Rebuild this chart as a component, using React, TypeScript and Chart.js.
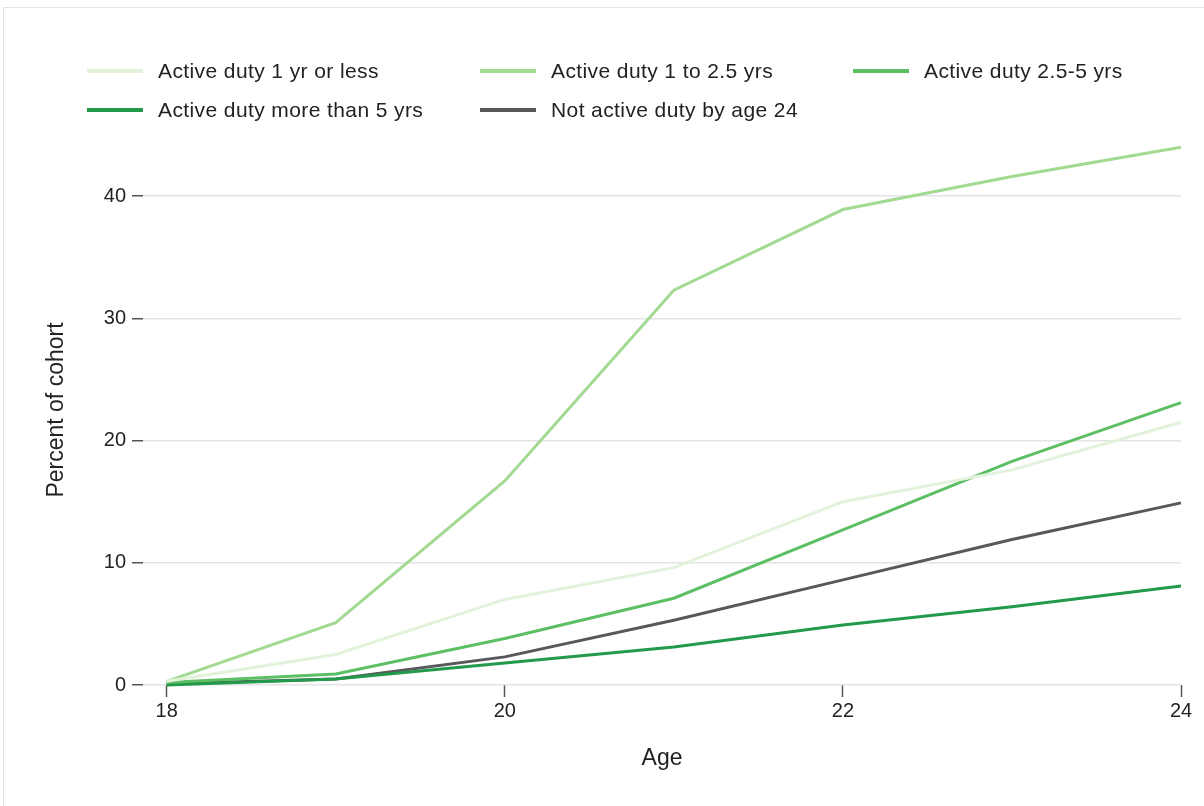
import React, { useEffect, useRef } from "react";
import { Chart, registerables } from "chart.js";

Chart.register(...registerables);

const ages = [18, 19, 20, 21, 22, 23, 24];
const xTickValues = [18, 20, 22, 24];
const yTickValues = [0, 10, 20, 30, 40];

const lessThan1 = [0.3, 2.5, 7.0, 9.6, 15.0, 17.6, 21.5];
const oneTo2_5 = [0.3, 5.1, 16.7, 32.3, 38.9, 41.6, 44.0];
const twoHalfTo5 = [0.2, 0.9, 3.8, 7.1, 12.7, 18.3, 23.1];
const moreThan5 = [0.0, 0.5, 1.8, 3.1, 4.9, 6.4, 8.1];
const notActive = [0.1, 0.5, 2.3, 5.3, 8.6, 11.9, 14.9];

const seriesNames = [
  "Active duty 1 yr or less",
  "Active duty 1 to 2.5 yrs",
  "Active duty 2.5-5 yrs",
  "Active duty more than 5 yrs",
  "Not active duty by age 24",
];
const seriesValues = [lessThan1, oneTo2_5, twoHalfTo5, moreThan5, notActive];
const seriesColors = ["#e2f2db", "#a2da92", "#5dbf64", "#23994a", "#58585c"];

const FONT = "'Liberation Sans', Arial, Helvetica, sans-serif";

const legendPos = [
  { left: 87, top: 71 },
  { left: 480, top: 71 },
  { left: 853, top: 71 },
  { left: 87, top: 110 },
  { left: 480, top: 110 },
];

export default function App() {
  const canvasRef = useRef<HTMLCanvasElement | null>(null);

  useEffect(() => {
    const canvas = canvasRef.current;
    if (!canvas) return;
    const chart = new Chart(canvas, {
      type: "line",
      data: {
        datasets: seriesNames.map((name, i) => ({
          label: name,
          data: ages.map((a, j) => ({ x: a, y: seriesValues[i][j] })),
          borderColor: seriesColors[i],
          backgroundColor: seriesColors[i],
          borderWidth: 3,
          pointRadius: 0,
          tension: 0,
          clip: false as any,
        })),
      },
      options: {
        animation: false,
        responsive: false,
        devicePixelRatio: 1,
        layout: { padding: { left: 0, top: 135, right: 23, bottom: 0 } },
        plugins: {
          legend: { display: false },
          tooltip: { enabled: false },
        },
        scales: {
          x: {
            type: "linear",
            min: 17.86,
            max: 24,
            afterBuildTicks: (scale: any) => {
              scale.ticks = xTickValues.map((v) => ({ value: v }));
            },
            afterFit: (scale: any) => {
              scale.height = 121;
            },
            grid: {
              drawOnChartArea: false,
              drawTicks: true,
              tickLength: 12,
              tickColor: "#555",
              tickWidth: 1.5,
            },
            border: { display: false },
            ticks: {
              padding: 2,
              color: "#222",
              font: { family: FONT, size: 20 },
              maxRotation: 0,
              autoSkip: false,
              callback: (v: any) => String(v),
            },
            title: {
              display: true,
              text: "Age",
              color: "#222",
              font: { family: FONT, size: 23 },
              padding: { top: 0, bottom: 34 },
            },
          },
          y: {
            type: "linear",
            min: 0,
            max: 45,
            afterBuildTicks: (scale: any) => {
              scale.ticks = yTickValues.map((v) => ({ value: v }));
            },
            afterFit: (scale: any) => {
              scale.width = 143;
            },
            grid: {
              color: "#e4e4e4",
              lineWidth: 1.5,
              drawTicks: true,
              tickLength: 11,
              tickColor: "#555",
              tickWidth: 1.5,
            },
            border: { display: false },
            ticks: {
              padding: 6,
              color: "#222",
              font: { family: FONT, size: 20 },
              callback: (v: any) => String(v),
            },
            title: {
              display: true,
              text: "Percent of cohort",
              color: "#222",
              font: { family: FONT, size: 23 },
              padding: { top: 43, bottom: 0 },
            },
          },
        },
      },
    });
    return () => chart.destroy();
  }, []);

  return (
    <div
      style={{
        position: "absolute",
        left: 0,
        top: 0,
        width: 1204,
        height: 806,
        overflow: "hidden",
        background: "#fff",
      }}
    >
      <div
        style={{
          position: "absolute",
          left: 3,
          top: 7,
          width: 1240,
          height: 840,
          border: "1px solid #e3e3e3",
        }}
      />
      <canvas
        ref={canvasRef}
        width={1204}
        height={806}
        style={{ position: "absolute", left: 0, top: 0, width: 1204, height: 806 }}
      />
      {seriesNames.map((name, i) => (
        <div
          key={name}
          style={{
            position: "absolute",
            left: legendPos[i].left,
            top: legendPos[i].top - 14,
            height: 28,
            display: "flex",
            alignItems: "center",
            whiteSpace: "nowrap",
            fontFamily: FONT,
            fontSize: 21,
            letterSpacing: "0.4px",
            color: "#222",
          }}
        >
          <span
            style={{
              display: "inline-block",
              width: 56,
              height: 4,
              background: seriesColors[i],
              marginRight: 15,
            }}
          />
          <span>{name}</span>
        </div>
      ))}
    </div>
  );
}
